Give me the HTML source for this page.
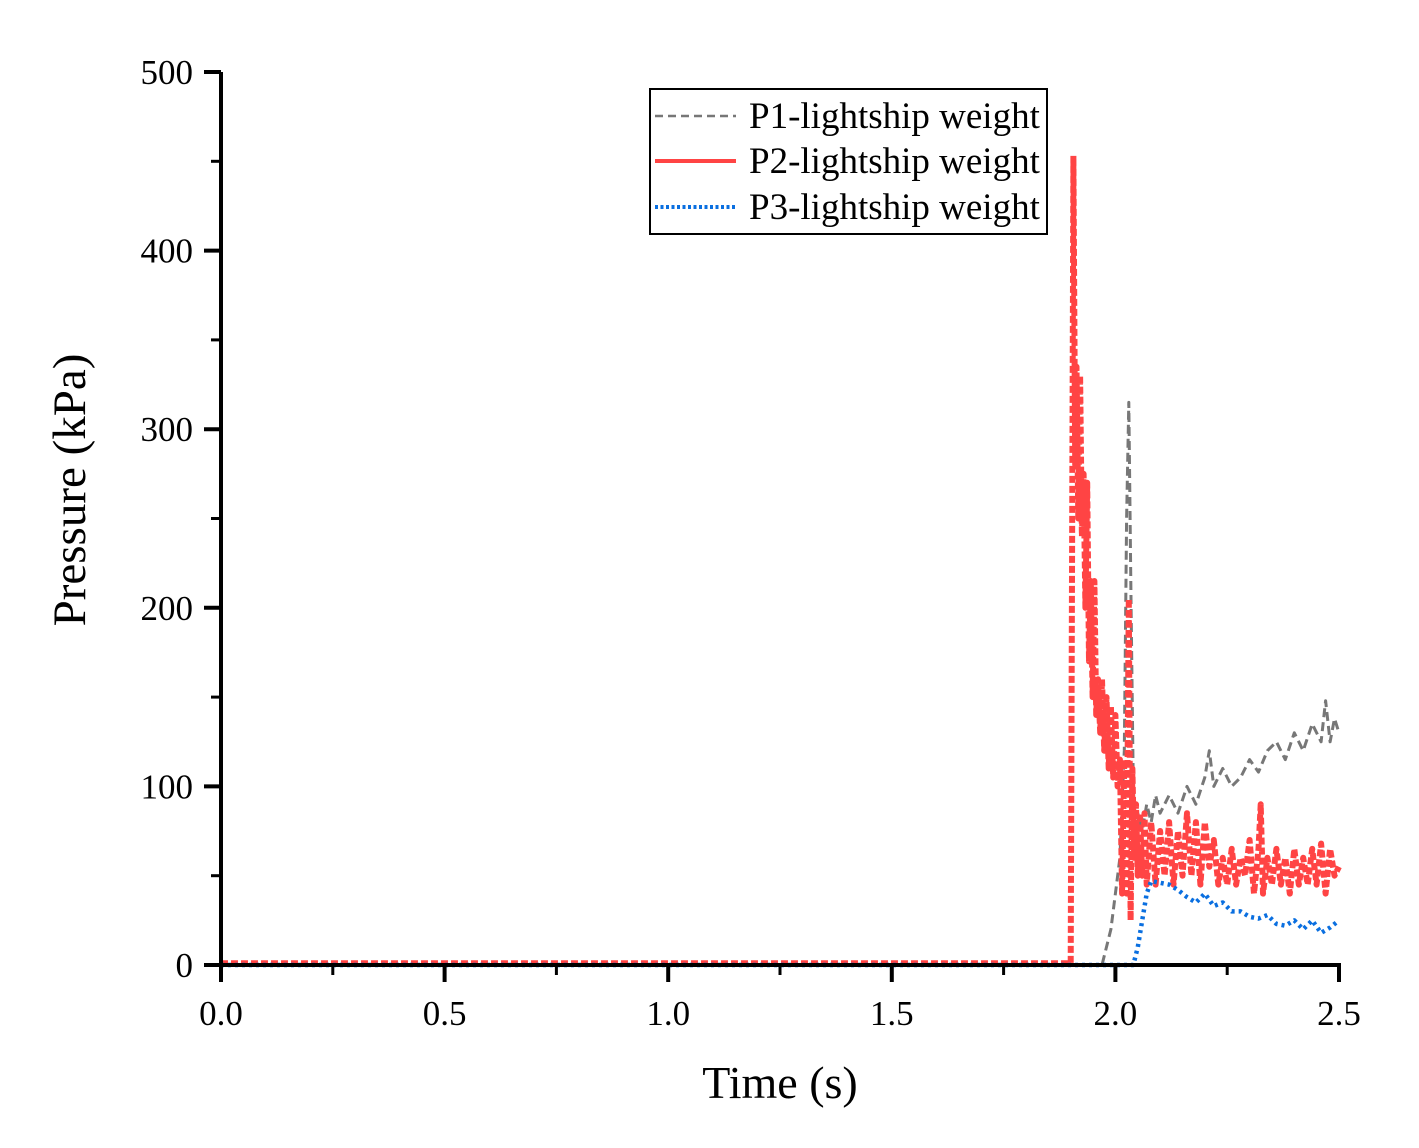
<!DOCTYPE html>
<html><head><meta charset="utf-8"><style>
body{margin:0;background:#fff}
svg{display:block}
text{font-family:"Liberation Serif",serif;fill:#000}
</style></head><body>
<svg id="chart" width="1419" height="1148" viewBox="0 0 1419 1148" xmlns="http://www.w3.org/2000/svg">
<g id="plot"></g>
<g id="axes"></g>
<text x="780" y="1098" font-size="46" text-anchor="middle">Time (s)</text>
<text transform="translate(85,490) rotate(-90)" font-size="47" text-anchor="middle">Pressure (kPa)</text>
<g>
<rect x="650" y="89" width="397" height="145" fill="#fff" stroke="#000" stroke-width="2"/>
<g><line x1="655" y1="116" x2="736" y2="116" stroke="#777" stroke-width="2.5" stroke-dasharray="8,5"/><text x="749" y="128" font-size="37">P1-lightship weight</text></g>
<g><line x1="655" y1="161" x2="736" y2="161" stroke="#f44" stroke-width="4"/><text x="749" y="173" font-size="37">P2-lightship weight</text></g>
<g><line x1="655" y1="207" x2="736" y2="207" stroke="#0a6fe0" stroke-width="4" stroke-dasharray="3,2.5"/><text x="749" y="219" font-size="37">P3-lightship weight</text></g>
</g>
</svg>
<script>
const xTicks=[0,0.5,1.0,1.5,2.0,2.5];
const xTickLabels=["0.0","0.5","1.0","1.5","2.0","2.5"];
const yTicks=[0,100,200,300,400,500];
const yTickLabels=["0","100","200","300","400","500"];
const p1T=[0,1.97,1.99,2.0,2.01,2.02,2.025,2.03,2.035,2.04,2.045,2.05,2.06,2.07,2.08,2.09,2.10,2.12,2.14,2.16,2.18,2.20,2.21,2.22,2.24,2.26,2.28,2.30,2.32,2.34,2.36,2.38,2.40,2.42,2.44,2.46,2.47,2.48,2.49,2.50];
const p1V=[0,0,20,40,60,120,250,315,200,100,70,85,75,90,80,95,85,95,85,100,90,105,120,100,110,100,105,115,108,120,125,115,130,120,135,125,148,125,138,130];
const p2T=[0,1.900,1.906,1.910,1.913,1.917,1.921,1.925,1.929,1.933,1.937,1.941,1.945,1.949,1.953,1.957,1.961,1.966,1.970,1.975,1.980,1.985,1.990,1.995,2.000,2.005,2.010,2.015,2.020,2.025,2.030,2.034,2.038,2.042,2.046,2.050,2.055,2.060,2.065,2.070,2.080,2.090,2.100,2.110,2.120,2.13,2.14,2.15,2.16,2.17,2.18,2.19,2.20,2.21,2.22,2.23,2.24,2.25,2.26,2.27,2.28,2.29,2.30,2.31,2.32,2.325,2.33,2.34,2.35,2.36,2.37,2.38,2.39,2.40,2.41,2.42,2.43,2.44,2.45,2.46,2.47,2.48,2.49,2.50];
const p2V=[1,1,453,280,335,250,330,240,275,200,270,170,215,150,215,140,160,130,160,120,150,110,145,105,140,100,115,40,115,40,205,25,110,60,90,50,85,50,85,45,80,45,75,50,80,45,75,50,85,50,80,45,80,55,70,45,60,45,65,45,60,50,70,40,65,90,40,60,45,65,45,60,40,65,45,60,45,65,45,68,40,65,50,55];
const p3T=[0,2.04,2.05,2.06,2.07,2.08,2.10,2.12,2.14,2.16,2.18,2.20,2.22,2.24,2.26,2.28,2.30,2.32,2.34,2.36,2.38,2.40,2.42,2.44,2.46,2.48,2.50];
const p3V=[0,0,10,25,40,47,46,45,42,38,35,40,33,35,30,30,27,26,28,23,22,25,20,25,18,21,25];

const X0=221,X1=1339,Y0=965,Y1=72;
const xs=t=>X0+(t/2.5)*(X1-X0);
const ys=v=>Y0-(v/500)*(Y0-Y1);
const NS="http://www.w3.org/2000/svg";
const plot=document.getElementById('plot'),axes=document.getElementById('axes');
function mk(tag,attrs,parent){const e=document.createElementNS(NS,tag);for(const k in attrs)e.setAttribute(k,attrs[k]);parent.appendChild(e);return e;}
function series(T,V,stroke,w,dash,name){
  const pts=T.map((t,i)=>xs(t).toFixed(1)+","+ys(V[i]).toFixed(1)).join(" ");
  const pl=mk('polyline',{points:pts,fill:'none',stroke:stroke,'stroke-width':w,'stroke-dasharray':dash,'stroke-linejoin':'round'},plot);
  
  
}
series(p1T,p1V,'#777',3,'9,5','series-p1');
series(p2T,p2V,'#f44',6,'7,3','series-p2');
series(p3T,p3V,'#0a6fe0',4.5,'3,4','series-p3');

mk('line',{x1:X0,y1:Y1,x2:X0,y2:Y0+2,stroke:'#000','stroke-width':4},axes);
mk('line',{x1:X0-2,y1:Y0,x2:X1+2,y2:Y0,stroke:'#000','stroke-width':4},axes);
xTicks.forEach((t,i)=>{
  const tk=mk('line',{x1:xs(t),y1:Y0,x2:xs(t),y2:Y0+17,stroke:'#000','stroke-width':4},axes);
  
  
  const lb=mk('text',{x:xs(t),y:1025,'font-size':35,'text-anchor':'middle'},axes);
  lb.textContent=xTickLabels[i];
  
  
  if(i<xTicks.length-1){mk('line',{x1:xs(t+0.25),y1:Y0,x2:xs(t+0.25),y2:Y0+10,stroke:'#000','stroke-width':3},axes);}
});
yTicks.forEach((v,i)=>{
  const tk=mk('line',{x1:X0-17,y1:ys(v),x2:X0,y2:ys(v),stroke:'#000','stroke-width':4},axes);
  
  
  const lb=mk('text',{x:193,y:ys(v)+12,'font-size':35,'text-anchor':'end'},axes);
  lb.textContent=yTickLabels[i];
  
  
  if(i<yTicks.length-1){mk('line',{x1:X0-10,y1:ys(v+50),x2:X0,y2:ys(v+50),stroke:'#000','stroke-width':3},axes);}
});
</script>
</body></html>
